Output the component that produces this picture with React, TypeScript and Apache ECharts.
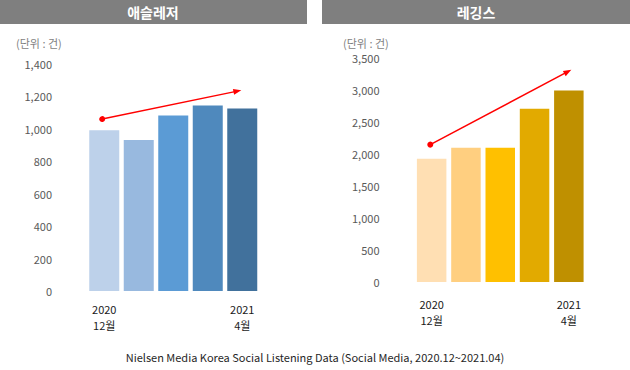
import React, { useEffect, useRef } from "react";
import * as echarts from "echarts";

const months = ["2020\n12월", "2021\n1월", "2021\n2월", "2021\n3월", "2021\n4월"];
const athleisureValues = [990, 930, 1080, 1142, 1123];
const leggingsValues = [1930, 2100, 2100, 2710, 2995];
const athleisureColors = ["#BDD1EA", "#98B9DF", "#5B9BD5", "#4F89BD", "#41719C"];
const leggingsColors = ["#FFDFB3", "#FFCF80", "#FFC000", "#E2AA00", "#BF9000"];
// trend arrows: [x (category index), y (value)]
const athleisureArrow = [[-0.06, 1058], [3.86, 1230]];
const leggingsArrow = [[-0.04, 2149], [3.97, 3291]];
const titles = ["애슬레저", "레깅스"];
const unitLabel = "(단위 : 건)";
const footer = "Nielsen Media Korea Social Listening Data (Social Media, 2020.12~2021.04)";

const FONT = '"Noto Sans CJK KR", "Noto Sans", sans-serif';

export default function App() {
  const ref = useRef<HTMLDivElement>(null);
  useEffect(() => {
    if (!ref.current) return;
    const chart = echarts.init(ref.current, undefined, { renderer: "svg" });

    const catAxis = (grid: number, margin: number) => ({
      type: "category",
      gridIndex: grid,
      data: months,
      axisLine: { show: false },
      axisTick: { show: false },
      axisLabel: {
        interval: (i: number) => i === 0 || i === months.length - 1,
        color: "#1a1a1a",
        fontSize: 11,
        lineHeight: 16,
        fontFamily: FONT,
        margin,
      },
    });
    const hiddenX = (grid: number) => ({
      type: "value",
      gridIndex: grid,
      min: -0.5,
      max: 4.5,
      show: false,
    });
    const valAxis = (grid: number, max: number, interval: number) => ({
      type: "value",
      gridIndex: grid,
      min: 0,
      max,
      interval,
      splitLine: { show: false },
      axisLine: { show: false },
      axisTick: { show: false },
      axisLabel: {
        color: "#595959",
        fontSize: 11,
        fontFamily: FONT,
        margin: 35,
        formatter: (v: number) => v.toLocaleString("en-US"),
      },
    });
    const arrowSeries = (xi: number, yi: number, pts: number[][]) => ({
      type: "line",
      xAxisIndex: xi,
      yAxisIndex: yi,
      data: [],
      silent: true,
      markLine: {
        silent: true,
        symbol: ["circle", "triangle"],
        symbolSize: [6, 8],
        label: { show: false },
        lineStyle: { color: "#FF0000", width: 1.5, type: "solid" },
        itemStyle: { color: "#FF0000" },
        emphasis: { disabled: true },
        data: [[{ coord: pts[0] }, { coord: pts[1] }]],
      },
    });

    chart.setOption({
      animation: false,
      grid: [
        { left: 87, width: 172.5, top: 63.5, height: 227.5 },
        { left: 414.5, width: 171.5, top: 58.3, height: 223.7 },
      ],
      xAxis: [catAxis(0, 10), catAxis(1, 14), hiddenX(0), hiddenX(1)],
      yAxis: [valAxis(0, 1400, 200), valAxis(1, 3500, 500)],
      series: [
        {
          type: "bar",
          xAxisIndex: 0,
          yAxisIndex: 0,
          barWidth: 30,
          data: athleisureValues.map((v, i) => ({ value: v, itemStyle: { color: athleisureColors[i] } })),
        },
        {
          type: "bar",
          xAxisIndex: 1,
          yAxisIndex: 1,
          barWidth: 29.5,
          data: leggingsValues.map((v, i) => ({ value: v, itemStyle: { color: leggingsColors[i] } })),
        },
        arrowSeries(2, 0, athleisureArrow),
        arrowSeries(3, 1, leggingsArrow),
      ],
      graphic: [
        { type: "rect", shape: { x: 0, y: 0, width: 307, height: 24 }, style: { fill: "#7F7F7F" }, silent: true },
        { type: "rect", shape: { x: 322, y: 0, width: 308, height: 24 }, style: { fill: "#7F7F7F" }, silent: true },
        {
          type: "text", x: 153, y: 12,
          style: { text: titles[0], fill: "#FFFFFF", font: `bold 14px ${FONT}`, align: "center", verticalAlign: "middle" },
        },
        {
          type: "text", x: 476, y: 12,
          style: { text: titles[1], fill: "#FFFFFF", font: `bold 14px ${FONT}`, align: "center", verticalAlign: "middle" },
        },
        {
          type: "text", x: 16, y: 43,
          style: { text: unitLabel, fill: "#7F7F7F", font: `11px ${FONT}`, align: "left", verticalAlign: "middle" },
        },
        {
          type: "text", x: 343, y: 43,
          style: { text: unitLabel, fill: "#7F7F7F", font: `11px ${FONT}`, align: "left", verticalAlign: "middle" },
        },
        {
          type: "text", x: 315, y: 357,
          style: { text: footer, fill: "#262626", font: `11px ${FONT}`, align: "center", verticalAlign: "middle" },
        },
      ],
    });
    return () => chart.dispose();
  }, []);
  return (
    <div
      ref={ref}
      style={{ position: "fixed", left: 0, top: 0, width: 630, height: 370, background: "#FFFFFF" }}
    />
  );
}
